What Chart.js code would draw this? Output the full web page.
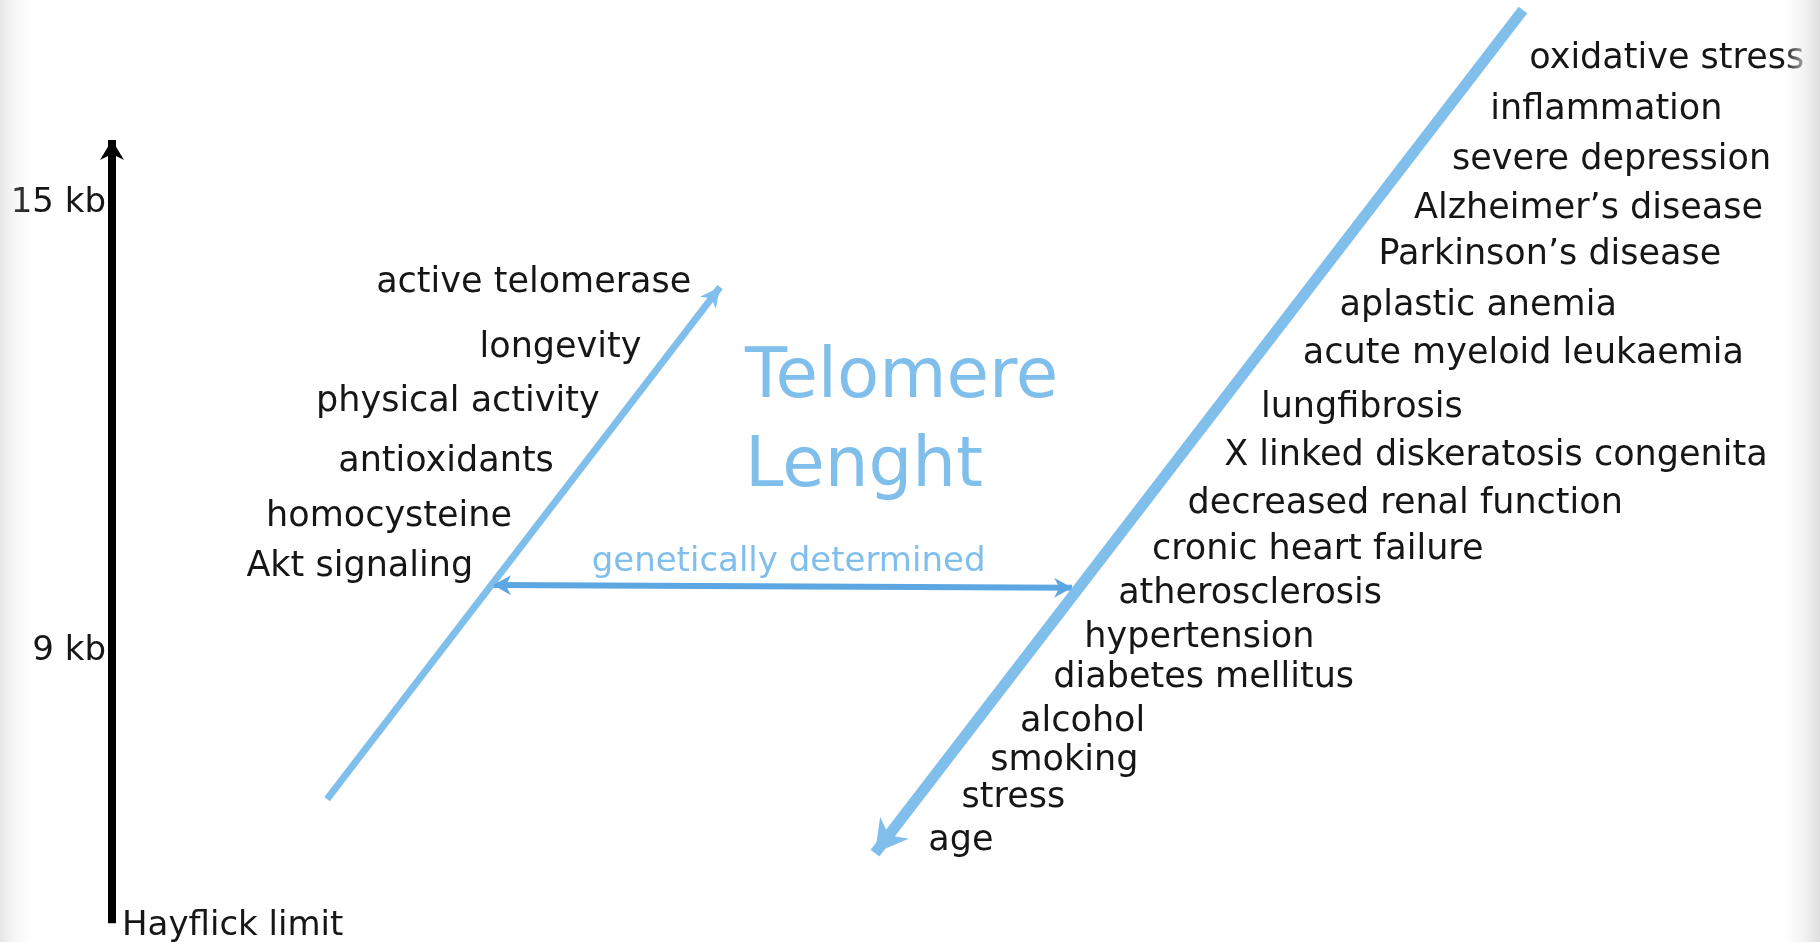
<!DOCTYPE html>
<html><head><meta charset="utf-8">
<script src="https://cdn.jsdelivr.net/npm/chart.js@4"></script>
<style>
html,body{margin:0;padding:0;background:#fff;overflow:hidden;}
#wrap{position:relative;width:1820px;height:942px;}
#vig{position:absolute;left:0;top:0;width:1820px;height:942px;pointer-events:none;
background:linear-gradient(to right, rgba(200,200,200,0.45) 0px, rgba(215,215,215,0.2) 14px, rgba(255,255,255,0) 34px, rgba(255,255,255,0) 1784px, rgba(238,238,238,0.6) 1802px, rgba(222,222,222,0.95) 1820px);}
</style></head>
<body><div id="wrap"><canvas id="c" width="1820" height="942"></canvas><div id="vig"></div></div>
<script>
// ---- data (y values in kb of telomere length) ----
const kbTicks = [9, 15];
const kbTickLabels = ['9 kb', '15 kb'];
const axisRange = [5.355, 15.85];
const axisBottomLabel = 'Hayflick limit';

const protectiveFactors = ['active telomerase', 'longevity', 'physical activity', 'antioxidants', 'homocysteine', 'Akt signaling'];
const protectiveLevels = [13.99, 13.12, 12.39, 11.59, 10.86, 10.18];

const riskFactors = ['oxidative stress', 'inflammation', 'severe depression', 'Alzheimer\u2019s disease', 'Parkinson\u2019s disease',
  'aplastic anemia', 'acute myeloid leukaemia', 'lungfibrosis', 'X linked diskeratosis congenita', 'decreased renal function',
  'cronic heart failure', 'atherosclerosis', 'hypertension', 'diabetes mellitus', 'alcohol', 'smoking', 'stress', 'age'];
const riskLevels = [16.99, 16.31, 15.64, 14.98, 14.36, 13.68, 13.04, 12.31, 11.67, 11.03, 10.41, 9.82, 9.23, 8.69, 8.11, 7.59, 7.09, 6.51];

const protectiveTrend = [{x: 12.59, y: 7.018}, {x: 35.60, y: 13.881}];
const riskTrend = [{x: 82.61, y: 17.594}, {x: 44.67, y: 6.294}];
const geneticRange = [{x: 22.31, y: 9.886}, {x: 56.21, y: 9.850}];
const geneticLabel = 'genetically determined';
const titleLines = ['Telomere', 'Lenght'];
const titleX = 37.06;
const titleLevels = [12.406, 11.21];

// ---- styles ----
const FONT = '"DejaVu Sans", sans-serif';
const LIGHT = 'rgb(128,190,236)';
const MID = 'rgb(92,166,226)';
const INK = '#161616';
const TEXT_DY = 4;

function arrowHead(ctx, from, to, len, half, color) {
  const dx = to.x - from.x, dy = to.y - from.y, L = Math.hypot(dx, dy);
  const ux = dx / L, uy = dy / L, nx = -uy, ny = ux;
  ctx.save();
  ctx.fillStyle = color;
  ctx.beginPath();
  ctx.moveTo(to.x, to.y);
  ctx.lineTo(to.x - ux * len + nx * half, to.y - uy * len + ny * half);
  ctx.lineTo(to.x - ux * len * 0.7, to.y - uy * len * 0.7);
  ctx.lineTo(to.x - ux * len - nx * half, to.y - uy * len - ny * half);
  ctx.closePath();
  ctx.fill();
  ctx.restore();
}

function xAtY(p0, p1, y) {
  return p0.x + (p1.x - p0.x) * (y - p0.y) / (p1.y - p0.y);
}

const annot = {
  id: 'annot',
  afterDatasetsDraw(chart) {
    const ctx = chart.ctx, ys = chart.scales.y, xs = chart.scales.x;
    const pts = i => chart.getDatasetMeta(i).data.map(e => ({x: e.x, y: e.y}));
    const ax = pts(0), pr = pts(1), rk = pts(2), gn = pts(3);
    // arrow heads
    arrowHead(ctx, ax[0], ax[1], 20, 12, '#000');
    arrowHead(ctx, pr[0], pr[1], 20, 10, LIGHT);
    arrowHead(ctx, rk[0], rk[1], 32, 18, LIGHT);
    arrowHead(ctx, gn[0], gn[1], 18, 10, MID);
    arrowHead(ctx, gn[1], gn[0], 18, 10, MID);

    ctx.save();
    ctx.font = '35px ' + FONT;
    ctx.fillStyle = INK;
    ctx.textBaseline = 'middle';
    // risk factors along the falling line
    ctx.textAlign = 'left';
    riskFactors.forEach((t, i) => {
      const py = ys.getPixelForValue(riskLevels[i]);
      ctx.fillText(t, xAtY(rk[0], rk[1], py) + 41, py + TEXT_DY);
    });
    // protective factors along the rising line
    ctx.textAlign = 'right';
    protectiveFactors.forEach((t, i) => {
      const py = ys.getPixelForValue(protectiveLevels[i]);
      ctx.fillText(t, xAtY(pr[0], pr[1], py) - 35, py + TEXT_DY);
    });
    // Hayflick limit
    ctx.font = '34px ' + FONT;
    ctx.textAlign = 'left';
    ctx.textBaseline = 'alphabetic';
    ctx.fillText(axisBottomLabel, ax[0].x + 10, ax[0].y + 12);
    // genetically determined
    ctx.fillStyle = LIGHT;
    ctx.textAlign = 'center';
    ctx.fillText(geneticLabel, (gn[0].x + gn[1].x) / 2 + 6, (gn[0].y + gn[1].y) / 2 - 15);
    // title
    ctx.font = '69px ' + FONT;
    ctx.textAlign = 'left';
    titleLines.forEach((t, i) => {
      ctx.fillText(t, xs.getPixelForValue(titleX), ys.getPixelForValue(titleLevels[i]));
    });
    ctx.restore();
  }
};

new Chart(document.getElementById('c'), {
  type: 'scatter',
  data: {
    datasets: [
      {data: [{x: 0, y: axisRange[0]}, {x: 0, y: axisRange[1]}], borderColor: '#000', borderWidth: 8},
      {data: protectiveTrend, borderColor: LIGHT, borderWidth: 7},
      {data: riskTrend, borderColor: LIGHT, borderWidth: 11},
      {data: geneticRange, borderColor: MID, borderWidth: 6}
    ].map(d => Object.assign(d, {showLine: true, pointRadius: 0, borderCapStyle: 'butt', fill: false, clip: false}))
  },
  plugins: [annot],
  options: {
    responsive: false,
    animation: false,
    events: [],
    layout: {padding: {top: 17, bottom: 11, left: 0, right: 0}},
    plugins: {legend: {display: false}, tooltip: {enabled: false}, title: {display: false}},
    scales: {
      x: {type: 'linear', min: 0, max: 100, display: false},
      y: {
        type: 'linear', min: 5.25, max: 17.5, position: 'left',
        grid: {display: false, drawTicks: false}, border: {display: false},
        afterBuildTicks: s => { s.ticks = kbTicks.map(v => ({value: v})); },
        afterFit: s => { s.width = 112; s.paddingTop = 0; s.paddingBottom = 0; },
        ticks: {
          padding: 6, color: INK, font: {family: FONT, size: 34},
          callback: v => kbTickLabels[kbTicks.indexOf(v)]
        }
      }
    }
  }
});
</script>
</body></html>
